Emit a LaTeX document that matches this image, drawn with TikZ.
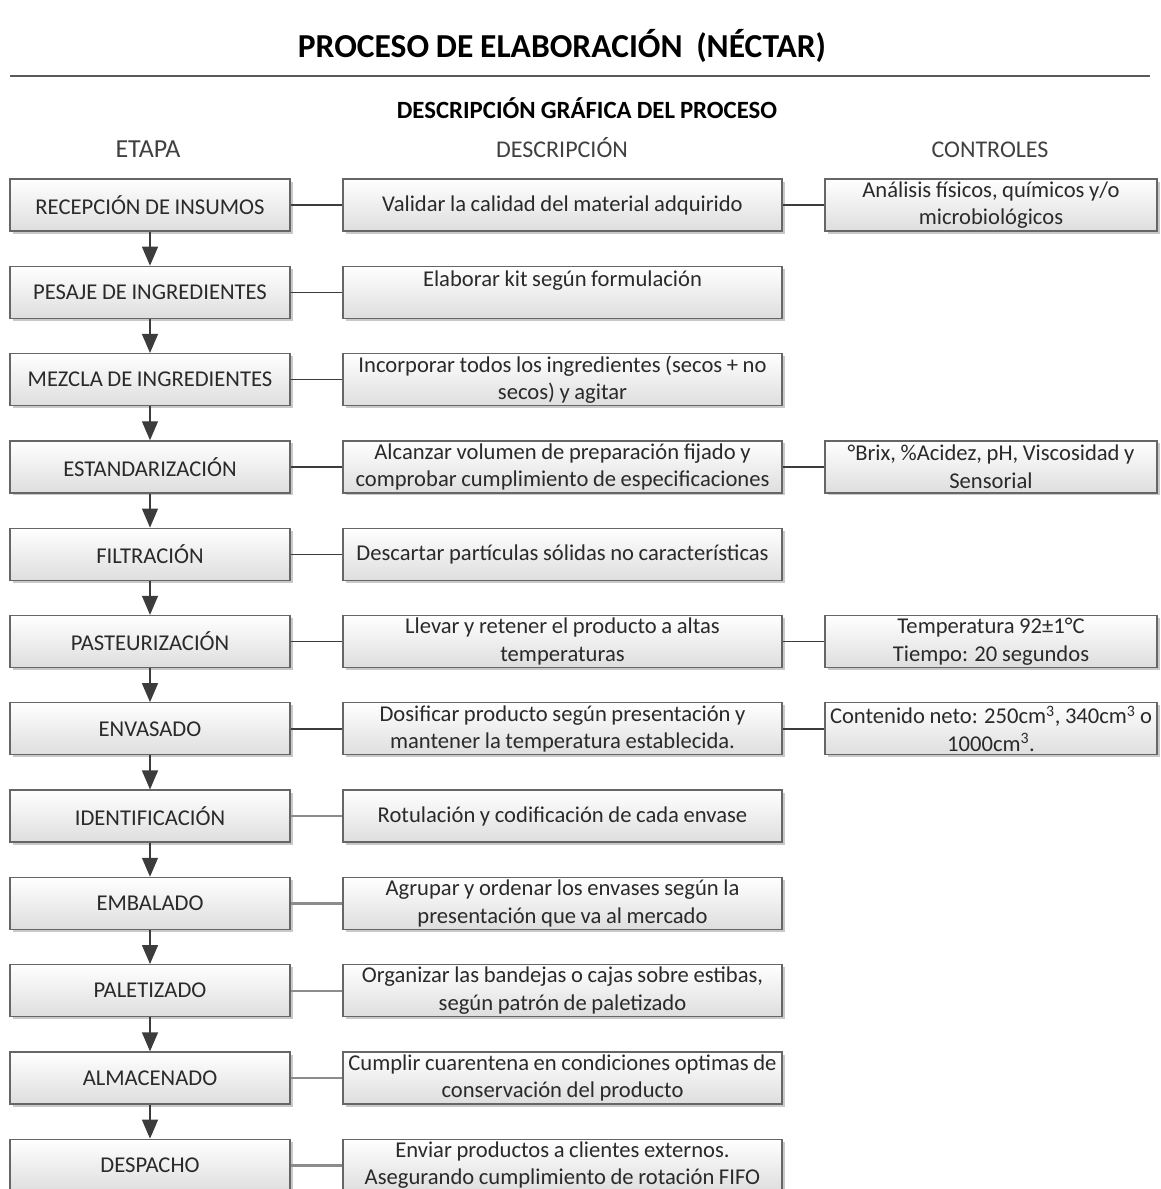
\documentclass[tikz,border=0pt]{standalone}
\usepackage{fontspec}
\setmainfont{Carlito}[WordSpace=0.9]
\usetikzlibrary{arrows.meta,shadows}
\definecolor{txt}{HTML}{2A2A2A}
\definecolor{hdr}{HTML}{404040}
\definecolor{boxline}{HTML}{666666}
\definecolor{conn}{HTML}{3C3C3C}
\tikzset{
  box/.style={draw=boxline, line width=1.3pt, top color=white, bottom color=black!13,
    drop shadow={shadow xshift=2.5pt, shadow yshift=-2.5pt, opacity=0.35, fill=black!60},
    minimum height=52pt, inner sep=0pt, align=center, text=txt,
    font=\fontsize{22.6}{27.5}\selectfont},
  etapa/.style={box, minimum width=280pt},
  desc/.style={box, minimum width=439pt},
  ctrl/.style={box, minimum width=332pt},
  flow/.style={draw=conn, line width=1.3pt, -{Triangle[width=16pt,length=19pt]}},
  link/.style={draw=conn, line width=1.4pt},
  linklow/.style={draw=black!45, line width=2.4pt},
  colhead/.style={text=hdr, anchor=base, font=\fontsize{24}{28}\selectfont},
}
\begin{document}
\begin{tikzpicture}[x=1pt,y=-1pt]
\useasboundingbox (0,0) rectangle (1160,1189);
\clip (0,0) rectangle (1160,1189);
\fill[white] (0,0) rectangle (1160,1189);
\node[anchor=base] (title) at (562,57) {\fontsize{33.5}{38}\selectfont\bfseries PROCESO DE ELABORACIÓN\ \ (NÉCTAR)};
\draw[draw=black!65, line width=1.3pt] (10,76) -- (1150,76);
\node[anchor=base] (sub) at (587,118) {\fontsize{24.8}{28}\selectfont\bfseries DESCRIPCIÓN GRÁFICA DEL PROCESO};
\node[colhead, font=\fontsize{26}{30}\selectfont] (h1) at (148,157) {ETAPA};
\node[colhead] (h2) at (562,157) {DESCRIPCIÓN};
\node[colhead] (h3) at (990,157) {CONTROLES};

% rows: center y = 205 + (i-1)*87.3
\node[etapa] (L1) at (150,205) {RECEPCIÓN DE INSUMOS};
\node[desc]  (M1) at (562.5,205) {Validar la calidad del material adquirido};
\node[ctrl]  (R1) at (991,205) {Análisis físicos, químicos y/o\\microbiológicos};

\node[etapa] (L2) at (150,292.3) {PESAJE DE INGREDIENTES};
\node[desc]  (M2) at (562.5,292.3) {Elaborar kit según formulación\\\mbox{}};

\node[etapa] (L3) at (150,379.6) {MEZCLA DE INGREDIENTES};
\node[desc]  (M3) at (562.5,379.6) {Incorporar todos los ingredientes (secos + no\\secos) y agitar};

\node[etapa] (L4) at (150,466.9) {ESTANDARIZACIÓN};
\node[desc]  (M4) at (562.5,466.9) {Alcanzar volumen de preparación fijado y\\comprobar cumplimiento de especificaciones};
\node[ctrl]  (R4) at (991,466.9) {°Brix, \%Acidez, pH, Viscosidad y\\Sensorial};

\node[etapa] (L5) at (150,554.2) {FILTRACIÓN};
\node[desc]  (M5) at (562.5,554.2) {Descartar partículas sólidas no características};

\node[etapa] (L6) at (150,641.5) {PASTEURIZACIÓN};
\node[desc]  (M6) at (562.5,641.5) {Llevar y retener el producto a altas\\temperaturas};
\node[ctrl]  (R6) at (991,641.5) {Temperatura 92±1°C\\Tiempo: 20 segundos};

\node[etapa] (L7) at (150,728.8) {ENVASADO};
\node[desc]  (M7) at (562.5,728.8) {Dosificar producto según presentación y\\mantener la temperatura establecida.};
\node[ctrl]  (R7) at (991,728.8) {Contenido neto: 250cm\textsuperscript{3}, 340cm\textsuperscript{3} o\\1000cm\textsuperscript{3}.};

\node[etapa] (L8) at (150,816.1) {IDENTIFICACIÓN};
\node[desc]  (M8) at (562.5,816.1) {Rotulación y codificación de cada envase};

\node[etapa] (L9) at (150,903.4) {EMBALADO};
\node[desc]  (M9) at (562.5,903.4) {Agrupar y ordenar los envases según la\\presentación que va al mercado};

\node[etapa] (L10) at (150,990.7) {PALETIZADO};
\node[desc]  (M10) at (562.5,990.7) {Organizar las bandejas o cajas sobre estibas,\\según patrón de paletizado};

\node[etapa] (L11) at (150,1078) {ALMACENADO};
\node[desc]  (M11) at (562.5,1078) {Cumplir cuarentena en condiciones optimas de\\conservación del producto};

\node[etapa] (L12) at (150,1165.3) {DESPACHO};
\node[desc]  (M12) at (562.5,1165.3) {Enviar productos a clientes externos.\\Asegurando cumplimiento de rotación FIFO};

% flow arrows
\foreach \a/\b in {1/2,2/3,3/4,4/5,5/6,6/7,7/8,8/9,9/10,10/11,11/12}
  \draw[flow] (L\a.south) -- (L\b.north);
% links
\foreach \i in {1,...,7} \draw[link] (L\i.east) -- (M\i.west);
\foreach \i in {8,...,12} \draw[linklow] (L\i.east) -- (M\i.west);
\foreach \i in {1,4,6,7} \draw[link] (M\i.east) -- (R\i.west);
\end{tikzpicture}
\end{document}
